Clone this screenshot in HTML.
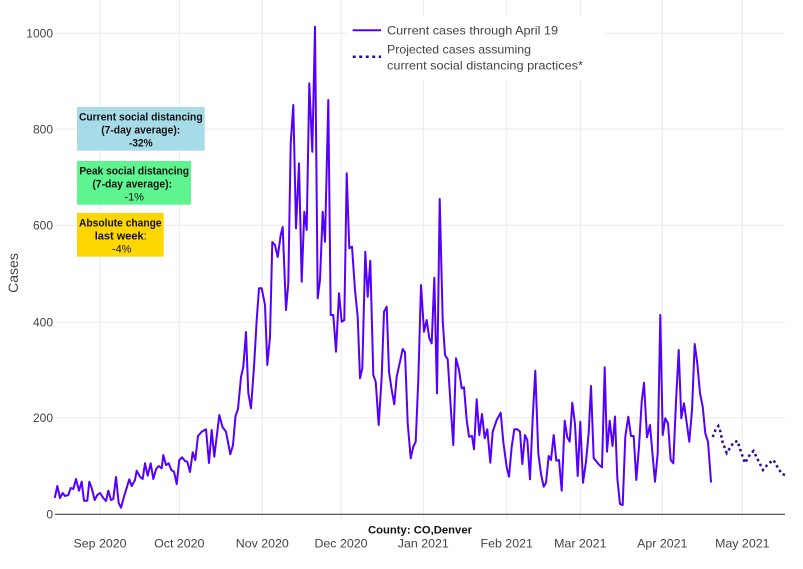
<!DOCTYPE html>
<html><head><meta charset="utf-8"><style>
html,body{margin:0;padding:0;background:#fff;}
svg{display:block;}
text{font-family:"Liberation Sans","DejaVu Sans",sans-serif;}
</style></head><body>
<svg width="803" height="569" viewBox="0 0 803 569" xmlns="http://www.w3.org/2000/svg">
<rect width="803" height="569" fill="#fff"/>
<g stroke="#ebebeb" stroke-width="1">
<line x1="100" y1="0" x2="100" y2="518"/>
<line x1="179.3" y1="0" x2="179.3" y2="518"/>
<line x1="262.3" y1="0" x2="262.3" y2="518"/>
<line x1="341" y1="0" x2="341" y2="518"/>
<line x1="423.3" y1="0" x2="423.3" y2="518"/>
<line x1="506.7" y1="0" x2="506.7" y2="518"/>
<line x1="580.3" y1="0" x2="580.3" y2="518"/>
<line x1="662.3" y1="0" x2="662.3" y2="518"/>
<line x1="742.3" y1="0" x2="742.3" y2="518"/>
<line x1="55" y1="33.3" x2="785" y2="33.3"/>
<line x1="55" y1="129" x2="785" y2="129"/>
<line x1="55" y1="225.3" x2="785" y2="225.3"/>
<line x1="55" y1="322.3" x2="785" y2="322.3"/>
<line x1="55" y1="417.7" x2="785" y2="417.7"/>
</g>
<line x1="55" y1="514.3" x2="785" y2="514.3" stroke="#444" stroke-width="1.2"/>

<polyline fill="none" stroke="#5500ff" stroke-width="2" stroke-linejoin="round" stroke-linecap="round" points="55,497 57.3,486 60,498 62.7,493 65,496 68.3,495 70.7,488 73.3,489 76,479 79,490.7 81.7,481.7 84,500.7 87.3,500.7 89.3,481.7 91.7,488 94.7,500 97.3,495 100,493 103.3,498 106,501 108.3,490.7 111,500 113.3,499 116,477 118.7,503 121,507.7 124,496.7 129.3,479.3 131.7,486 135,480 136.7,470.7 140,476.7 142.7,479 145,463.3 147.7,475.7 150.7,463.3 153.3,479 156,469.3 158.7,466 161.7,468.3 163.3,455 166,465 168.7,463.3 171.3,470 174,471.7 176.7,484 179.3,460 182,457.3 185,461 187.3,461.7 190,472 192.7,452.3 195.3,460 198,436 201.7,431.7 206,429.3 209,463 211.7,430 214.3,456.7 216.7,436.7 219.3,415 222.5,427 226,431.7 230.3,454.3 233,445 235.5,416 238,409 241,377 243.3,367 246,332 248.3,393 251,408.3 254,367 256.7,320 259,288.3 261.7,288.3 265,305 267.3,365 270,337 272.3,242 275,245 277.7,257 280.7,235 282.7,227 286,310 288.3,283.3 290.7,143.3 293.3,105 296,228.3 299,163.3 301.7,281.7 304.3,211.7 306.7,230 309.3,83.3 312.3,151.7 315,26.7 317.7,298.3 320,280 322.7,211.7 325,241.7 328.3,100 330.7,315 333.3,315 336,351.7 339,293.3 341.7,321.7 344.3,320 346.7,173.3 349.3,248.3 352,246.7 355,290 357.7,316.7 360,378.3 362.3,368.3 365.3,251.7 367.7,296.7 370.3,260.7 373.3,375 375.7,381.7 378.7,425 381.7,376.7 384,311.7 386.7,306.7 389,371.7 391.7,390 394.3,404.3 396.7,376.7 400,361.7 402.7,349 405,352.3 407.7,423.3 410.7,458.3 413.3,446.7 415.7,441.7 418.3,380 421,285 424,331.7 426.7,320 429.3,338.3 431.7,343.3 434.3,277.7 437,393.3 439.7,199 442.7,320 445,355 447.7,359.3 450.7,406.7 453.3,445 456,358.3 459,370 461.7,388.3 464,387.3 466.7,420 469,436.7 472,436 474,449.3 476.7,399.3 479.3,435 482,414 484.7,438.3 487.3,429.3 490.3,462.7 492.7,431.7 496.7,420 500.7,412.7 503.3,441.7 506.7,467.3 509,476.7 511.7,446.7 514.3,429.3 517.3,429.3 520,431.7 522.3,464 525,435 527.3,440 530,479.3 532.7,418.3 535.3,370.7 538.3,453.3 541,474 543.7,486.7 546,482.7 548.7,456 551,460 553.7,435 556.3,460.7 559,460 561.7,490.7 564.7,420.7 567.3,437.3 569.7,441.7 572.3,402.7 575,424 577.7,476 580.3,421.7 583,482.7 586,461.7 588.7,432.7 591,386 593.7,458.3 596.7,461.7 599.3,465 602,467.3 604.7,367.3 607,451.7 609.7,420.7 612.5,446 615,416.5 617.3,478 620,504 622.7,505 625.3,436.7 628.3,416.7 631,436 633.7,436 636.3,480 639,446.7 641.7,401.7 644,382.7 647,437.3 650,425 652.3,451.7 655,481.7 657.7,453.3 660.3,315 662.7,435 665.3,418.3 668,423.3 670.7,460 673.3,463.3 676,401.7 678.7,350 681.3,418.3 684,403.3 687,425 689.3,441.7 692,410 694.7,344 697.3,363.3 700,393.3 702.7,406.7 705.3,433.3 708,441.7 711,481.7"/>

<polyline fill="none" stroke="#2d0c9a" stroke-width="2.5" stroke-dasharray="2.5,3" points="712.7,437 715.5,430 718.3,426 720.5,432 722.5,442 726.7,453 730,448 733.5,442.5 737.5,441 741,452 745,463 749,456 753.5,451 758,460 763,470 768,464 773.5,460 778,468 782,474 785,475"/>

<!-- legend -->
<rect x="348" y="16" width="257" height="64" fill="#fff"/>
<line x1="352.7" y1="30.3" x2="381" y2="30.3" stroke="#5500ff" stroke-width="2"/>
<line x1="352.7" y1="56.7" x2="381" y2="56.7" stroke="#2d0c9a" stroke-width="2.5" stroke-dasharray="3,3.5"/>
<g fill="#444" font-size="12">
<text x="387" y="34.5" textLength="171" lengthAdjust="spacingAndGlyphs">Current cases through April 19</text>
<text x="387" y="53.5" textLength="144" lengthAdjust="spacingAndGlyphs">Projected cases assuming</text>
<text x="387" y="69.3" textLength="196" lengthAdjust="spacingAndGlyphs">current social distancing practices*</text>
</g>

<!-- annotation boxes -->
<rect x="77" y="107" width="127.7" height="43.7" fill="#a8dbe8"/>
<rect x="77" y="161" width="114" height="43.7" fill="#5cf590"/>
<rect x="77" y="213" width="86.7" height="43.7" fill="#ffd700"/>
<g fill="#111" font-size="11" text-anchor="middle">
<text x="140.8" y="120.7" font-weight="bold" textLength="123.7" lengthAdjust="spacingAndGlyphs">Current social distancing</text>
<text x="140.7" y="133.7" font-weight="bold" textLength="79" lengthAdjust="spacingAndGlyphs">(7-day average):</text>
<text x="140.8" y="146.7" font-weight="bold" textLength="23.7" lengthAdjust="spacingAndGlyphs">-32%</text>
<text x="134.2" y="174.4" font-weight="bold" textLength="109.7" lengthAdjust="spacingAndGlyphs">Peak social distancing</text>
<text x="132.2" y="187.4" font-weight="bold" textLength="79.7" lengthAdjust="spacingAndGlyphs">(7-day average):</text>
<text x="134.2" y="200.7">-1%</text>
<text x="120.3" y="226.4" font-weight="bold" textLength="82.7" lengthAdjust="spacingAndGlyphs">Absolute change</text>
<text x="120.7" y="239.4"><tspan font-weight="bold">last week</tspan>:</text>
<text x="121.7" y="252.4">-4%</text>
</g>

<!-- y tick labels -->
<g fill="#444" font-size="12" text-anchor="end">
<text x="53" y="37.6">1000</text>
<text x="53" y="133.3">800</text>
<text x="53" y="229.6">600</text>
<text x="53" y="326.6">400</text>
<text x="53" y="422">200</text>
<text x="53" y="518.6">0</text>
</g>
<text x="0" y="0" fill="#444" font-size="14" text-anchor="middle" transform="translate(18,273) rotate(-90)">Cases</text>

<!-- x tick labels -->
<g fill="#444" font-size="12.4" text-anchor="middle">
<text x="100" y="547.6">Sep 2020</text>
<text x="179.3" y="547.6">Oct 2020</text>
<text x="262.3" y="547.6">Nov 2020</text>
<text x="341" y="547.6">Dec 2020</text>
<text x="423.3" y="547.6">Jan 2021</text>
<text x="506.7" y="547.6">Feb 2021</text>
<text x="580.3" y="547.6">Mar 2021</text>
<text x="662.3" y="547.6">Apr 2021</text>
<text x="742.3" y="547.6">May 2021</text>
</g>
<text x="420" y="533.3" fill="#111" font-size="11" font-weight="bold" text-anchor="middle" textLength="104" lengthAdjust="spacingAndGlyphs">County: CO,Denver</text>
</svg>
</body></html>
